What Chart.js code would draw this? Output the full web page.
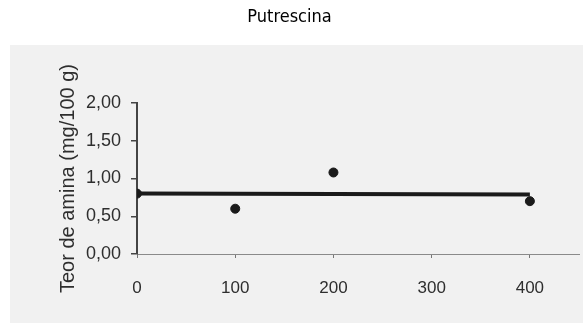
<!DOCTYPE html>
<html>
<head>
<meta charset="utf-8">
<script src="https://cdn.jsdelivr.net/npm/chart.js@4"></script>
<style>
  body { margin: 0; background: #fff; }
  #wrap { width: 588px; height: 324px; }
</style>
</head>
<body>
<div id="wrap"><canvas id="myChart" width="588" height="324"></canvas></div>
<script>
const chartTitle = "Putrescina";
const yTitle = "Teor de amina (mg/100 g)";
const xValues = [0, 100, 200, 400];
const yValues = [0.8, 0.6, 1.08, 0.7];
const trendX = [0, 400];
const trendY = [0.8, 0.79];
const xTicks = [0, 100, 200, 300, 400];
const yTicks = [0, 0.5, 1, 1.5, 2];

// grey scanned-paper box behind the plot
const paper = {
  id: "paper",
  beforeDraw(chart) {
    const c = chart.ctx;
    c.save();
    c.fillStyle = "#ffffff";
    c.fillRect(0, 0, chart.width, chart.height);
    c.fillStyle = "#f1f1f1";
    c.fillRect(10, 45, 573, 278);
    c.restore();
  },
};

const ctx = document.getElementById("myChart").getContext("2d");
const myChart = new Chart(ctx, {
  type: "scatter",
  data: {
    datasets: [
      {
        type: "line",
        data: trendX.map((x, i) => ({ x: x, y: trendY[i] })),
        borderColor: "#1a1a1a",
        borderWidth: 4,
        pointRadius: 0,
        fill: false,
      },
      {
        data: xValues.map((x, i) => ({ x: x, y: yValues[i] })),
        backgroundColor: "#1a1a1a",
        borderColor: "#1a1a1a",
        pointRadius: 4.5,
      },
    ],
  },
  options: {
    responsive: false,
    animation: false,
    devicePixelRatio: 1,
    layout: { padding: { top: 0, right: 9, left: 0, bottom: 0 } },
    plugins: {
      legend: { display: false },
      tooltip: { enabled: false },
      title: {
        display: true,
        text: chartTitle,
        color: "#000000",
        padding: { top: 6, bottom: 74.2 },
        font: {
          family: "'DejaVu Sans Condensed', 'Liberation Sans', Arial, sans-serif",
          size: 18,
          weight: "normal",
          lineHeight: 1.27,
        },
      },
    },
    scales: {
      x: {
        type: "linear",
        min: 0,
        max: 450,
        afterFit: (scale) => { scale.height = 70; },
        afterBuildTicks: (scale) => {
          scale.ticks = xTicks.map((v) => ({ value: v }));
        },
        ticks: {
          padding: 20,
          color: "#2e2e2e",
          font: { family: "'Liberation Sans', Arial, sans-serif", size: 17 },
        },
        grid: {
          drawOnChartArea: false,
          drawTicks: true,
          tickLength: 4,
          color: "#777777",
        },
        border: { color: "#8a8a8a", width: 1, dash: [6, 2] },
      },
      y: {
        min: 0,
        max: 2,
        afterFit: (scale) => { scale.width = 137; },
        afterBuildTicks: (scale) => {
          scale.ticks = yTicks.map((v) => ({ value: v }));
        },
        ticks: {
          padding: 10,
          color: "#2e2e2e",
          font: { family: "'Liberation Sans', Arial, sans-serif", size: 18 },
          callback: (v) => v.toFixed(2).replace(".", ","),
        },
        grid: {
          drawOnChartArea: false,
          drawTicks: true,
          tickLength: 6,
          color: "#444444",
          lineWidth: 1.5,
        },
        border: { color: "#444444", width: 2 },
        title: {
          display: true,
          text: yTitle,
          color: "#2e2e2e",
          padding: { top: 56, bottom: 0 },
          font: { family: "'Liberation Sans', Arial, sans-serif", size: 20 },
        },
      },
    },
  },
  plugins: [paper],
});
</script>
</body>
</html>
